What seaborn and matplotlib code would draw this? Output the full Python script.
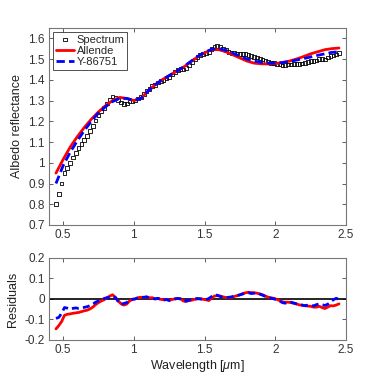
import numpy as np
import pandas as pd
import matplotlib
matplotlib.use('Agg')
import matplotlib.pyplot as plt
import seaborn as sns

# spectrum sampled every 0.02 um
wl_spec = np.round(np.linspace(0.45, 2.45, 101), 2)
spectrum = [0.80, 0.85, 0.90, 0.95, 0.975, 1.00, 1.025, 1.047, 1.07, 1.09,
            1.11, 1.13, 1.153, 1.177, 1.203, 1.227, 1.247, 1.265, 1.285, 1.304,
            1.32, 1.315, 1.303, 1.291, 1.283, 1.285, 1.295, 1.299, 1.30, 1.31,
            1.318, 1.331, 1.347, 1.356, 1.369, 1.375, 1.387, 1.393, 1.40, 1.41,
            1.414, 1.425, 1.436, 1.447, 1.453, 1.45, 1.458, 1.472, 1.484, 1.498,
            1.51, 1.519, 1.524, 1.529, 1.531, 1.549, 1.56, 1.562, 1.557, 1.549,
            1.542, 1.534, 1.53, 1.529, 1.527, 1.525, 1.525, 1.523, 1.52, 1.515,
            1.51, 1.507, 1.502, 1.497, 1.49, 1.484, 1.482, 1.481, 1.477, 1.473,
            1.469, 1.47, 1.473, 1.474, 1.475, 1.475, 1.476, 1.479, 1.482, 1.485,
            1.489, 1.489, 1.493, 1.501, 1.499, 1.498, 1.507, 1.516, 1.517, 1.522,
            1.529]

# model fits sampled every 0.05 um
wl_model = np.round(np.linspace(0.45, 2.45, 41), 2)
allende = [0.95, 1.015, 1.075, 1.125, 1.17, 1.21, 1.245, 1.275, 1.30, 1.315,
           1.31, 1.30, 1.31, 1.345, 1.375, 1.40, 1.42, 1.44, 1.46, 1.485,
           1.51, 1.53, 1.545, 1.545, 1.535, 1.52, 1.505, 1.49, 1.48, 1.477,
           1.476, 1.478, 1.483, 1.49, 1.50, 1.512, 1.525, 1.535, 1.545, 1.55,
           1.553]
y86751 = [0.90, 0.985, 1.05, 1.105, 1.155, 1.20, 1.24, 1.27, 1.295, 1.31,
          1.31, 1.30, 1.31, 1.345, 1.375, 1.40, 1.42, 1.44, 1.462, 1.487,
          1.512, 1.532, 1.547, 1.55, 1.542, 1.528, 1.513, 1.50, 1.49, 1.484,
          1.48, 1.48, 1.483, 1.488, 1.495, 1.502, 1.51, 1.518, 1.525, 1.532,
          1.535]

# residuals (spectrum - model), every 0.02 um
res_allende = [-0.146, -0.13, -0.11, -0.08, -0.075, -0.073, -0.07, -0.068, -0.066, -0.062,
               -0.058, -0.055, -0.049, -0.04, -0.028, -0.018, -0.01, -0.004, 0.005, 0.014,
               0.02, 0.008, -0.01, -0.024, -0.03, -0.025, -0.01, -0.002, 0.0, 0.006,
               0.008, 0.006, 0.009, 0.005, 0.006, 0.0, 0.002, -0.002, -0.004, -0.002,
               -0.006, -0.003, 0.0, 0.003, 0.001, -0.01, -0.012, -0.008, -0.006, -0.002,
               0.0, 0.001, -0.002, -0.004, -0.008, 0.004, 0.014, 0.016, 0.014, 0.01,
               0.007, 0.005, 0.007, 0.012, 0.016, 0.02, 0.026, 0.03, 0.032, 0.031,
               0.03, 0.028, 0.024, 0.02, 0.014, 0.008, 0.005, 0.003, -0.002, -0.008,
               -0.014, -0.016, -0.016, -0.018, -0.021, -0.025, -0.029, -0.031, -0.033, -0.035,
               -0.036, -0.04, -0.04, -0.036, -0.042, -0.047, -0.04, -0.033, -0.034, -0.03,
               -0.024]
res_y86751 = [-0.095, -0.09, -0.07, -0.042, -0.045, -0.05, -0.046, -0.044, -0.046, -0.044,
              -0.041, -0.038, -0.033, -0.026, -0.016, -0.01, -0.006, 0.002, 0.006, 0.008,
              0.013, 0.006, -0.012, -0.026, -0.022, -0.018, -0.005, -0.002, 0.0, 0.006,
              0.008, 0.008, 0.01, 0.006, 0.004, 0.0, 0.003, -0.002, -0.006, -0.003,
              -0.008, -0.004, 0.0, 0.002, 0.0, -0.012, -0.01, -0.006, -0.004, 0.0,
              0.002, 0.0, -0.002, -0.004, 0.002, 0.012, 0.02, 0.018, 0.012, 0.008,
              0.006, 0.008, 0.01, 0.014, 0.016, 0.02, 0.024, 0.028, 0.03, 0.026,
              0.028, 0.03, 0.024, 0.018, 0.012, 0.006, 0.004, 0.0, -0.004, -0.01,
              -0.018, -0.021, -0.016, -0.016, -0.02, -0.024, -0.028, -0.03, -0.033, -0.03,
              -0.03, -0.034, -0.028, -0.024, -0.028, -0.032, -0.026, -0.016, -0.004, 0.003,
              -0.003]

sns.set_style('ticks')
plt.rcParams['font.family'] = ['Liberation Sans', 'DejaVu Sans']
plt.rcParams['mathtext.fontset'] = 'custom'
plt.rcParams['mathtext.it'] = 'Liberation Sans:italic'

fig = plt.figure(figsize=(3.82, 3.82), dpi=100)
ax1 = fig.add_axes([0.128, 0.411, 0.778, 0.516])
ax2 = fig.add_axes([0.128, 0.110, 0.778, 0.215])

# top panel
sns.scatterplot(x=wl_spec, y=spectrum, ax=ax1, marker='s', s=7, facecolor='none',
                edgecolor='black', linewidth=0.6, label='Spectrum', zorder=2)
sns.lineplot(x=wl_model, y=allende, ax=ax1, color='red', lw=2.0, label='Allende', zorder=3)
sns.lineplot(x=wl_model, y=y86751, ax=ax1, color='blue', lw=2.0, label='Y-86751', zorder=4)
ax1.lines[-1].set_dashes([3, 1.5])

ax1.set_xlim(0.4, 2.5)
ax1.set_ylim(0.7, 1.65)
ax1.set_yticks(np.arange(0.7, 1.61, 0.1))
ax1.set_yticklabels(['0.7', '0.8', '0.9', '1', '1.1', '1.2', '1.3', '1.4', '1.5', '1.6'])
ax1.set_xticks([0.5, 1, 1.5, 2, 2.5])
ax1.set_xticklabels(['0.5', '1', '1.5', '2', '2.5'])
ax1.set_ylabel('Albedo reflectance', fontsize=9, color='#222222')
leg = ax1.legend(loc='upper left', fontsize=8, frameon=True, fancybox=False,
                 edgecolor='black', borderpad=0.25, labelspacing=0.1, handlelength=1.7,
                 handletextpad=0.2, borderaxespad=0.35)
leg.get_frame().set_linewidth(0.6)

# bottom panel
sns.lineplot(x=wl_spec, y=res_allende, ax=ax2, color='red', lw=2.0, zorder=3)
sns.lineplot(x=wl_spec, y=res_y86751, ax=ax2, color='blue', lw=2.0, zorder=4)
ax2.lines[-1].set_dashes([2.5, 1.5])
ax2.axhline(0, color='black', lw=1.2, zorder=2)
ax2.set_xlim(0.4, 2.5)
ax2.set_ylim(-0.2, 0.2)
ax2.set_yticks([-0.2, -0.1, 0, 0.1, 0.2])
ax2.set_yticklabels(['-0.2', '-0.1', '0', '0.1', '0.2'])
ax2.set_xticks([0.5, 1, 1.5, 2, 2.5])
ax2.set_xticklabels(['0.5', '1', '1.5', '2', '2.5'])
ax2.set_ylabel('Residuals', fontsize=9, color='#222222')
ax2.set_xlabel('Wavelength [$\\mu$m]', fontsize=9, color='#222222', labelpad=1)

for ax in (ax1, ax2):
    ax.tick_params(direction='in', top=True, right=True, length=3, width=0.6,
                   labelsize=8.5, colors='#444444', labelcolor='#333333', pad=3)
    for sp in ax.spines.values():
        sp.set_visible(True)
        sp.set_color('#777777')
        sp.set_linewidth(0.8)

fig.savefig('out.png', dpi=100)
